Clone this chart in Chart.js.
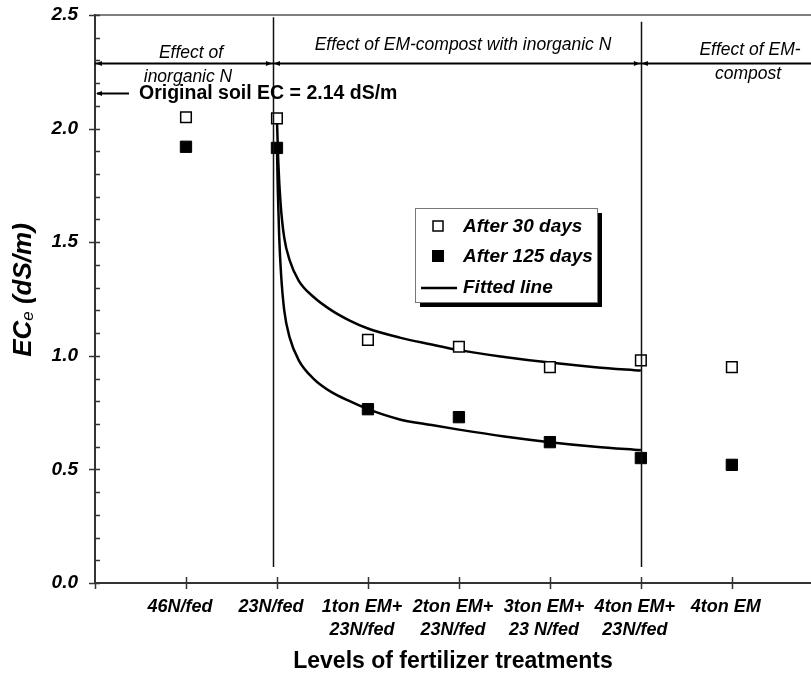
<!DOCTYPE html>
<html>
<head>
<meta charset="utf-8">
<script src="https://cdn.jsdelivr.net/npm/chart.js@4.4.1/dist/chart.umd.min.js"></script>
<style>
  html, body { margin: 0; padding: 0; background: #fff; overflow: hidden; }
  #wrap { width: 811px; height: 675px; }
  canvas { display: block; }
</style>
</head>
<body>
<div id="wrap"><canvas id="ecChart" width="811" height="675"></canvas></div>
<script>
// ================= DATA =================
const treatments = [
  ["46N/fed"], ["23N/fed"], ["1ton EM+", "23N/fed"], ["2ton EM+", "23N/fed"],
  ["3ton EM+", "23 N/fed"], ["4ton EM+", "23N/fed"], ["4ton EM"]
];
const treatmentPos = [1, 2, 3, 4, 5, 6, 7];
const after30 = [2.05, 2.045, 1.07, 1.04, 0.95, 0.98, 0.95];
const after125 = [1.92, 1.915, 0.765, 0.73, 0.62, 0.55, 0.52];

// fitted curves
const fit30X = [2.0, 2.015, 2.04, 2.08, 2.14, 2.24, 2.4, 2.6, 2.8, 3.0, 3.35, 3.7, 4.0, 4.5, 5.0, 5.5, 6.0];
const fit30Y = [2.04, 1.85, 1.67, 1.52, 1.42, 1.33, 1.26, 1.2, 1.155, 1.12, 1.08, 1.05, 1.025, 0.995, 0.97, 0.95, 0.935];
const fit125X = [2.0, 2.01, 2.025, 2.045, 2.08, 2.14, 2.24, 2.4, 2.6, 2.8, 3.0, 3.35, 3.7, 4.0, 4.5, 5.0, 5.5, 6.0];
const fit125Y = [1.92, 1.72, 1.52, 1.36, 1.2, 1.08, 0.98, 0.9, 0.84, 0.8, 0.765, 0.72, 0.695, 0.675, 0.645, 0.62, 0.6, 0.585];

const yTicks = [0, 0.5, 1.0, 1.5, 2.0, 2.5];
const originalEC = 2.14;
const sectionLines = [1.956, 6];   // vertical dividers (x units)
const sectionArrowY = 2.29;

const FONT = "'Liberation Sans', Arial, sans-serif";

const toXY = (xs, ys) => xs.map((x, i) => ({ x: x, y: ys[i] }));

// ================= EXTRA DRAWING =================
const decorations = {
  id: "decorations",
  afterDatasetsDraw(chart) {
    const ctx = chart.ctx;
    const xs = chart.scales.x, ys = chart.scales.y;
    const area = chart.chartArea;
    ctx.save();

    // top border
    ctx.strokeStyle = "#555";
    ctx.lineWidth = 1.5;
    ctx.beginPath();
    ctx.moveTo(area.left, area.top);
    ctx.lineTo(area.right, area.top);
    ctx.stroke();

    // y ticks (major + minor)
    ctx.strokeStyle = "#333";
    ctx.lineWidth = 1.5;
    for (let i = 0; i <= 25; i++) {
      const py = Math.round(ys.getPixelForValue(i / 10)) + 0.5;
      ctx.beginPath();
      if (i % 5 === 0) { ctx.moveTo(area.left - 6, py); ctx.lineTo(area.left + 5, py); }
      else { ctx.moveTo(area.left, py); ctx.lineTo(area.left + 5, py); }
      ctx.stroke();
    }
    // x ticks
    for (let v = 0; v <= 7; v++) {
      const px = Math.round(xs.getPixelForValue(v)) + 0.5;
      ctx.beginPath();
      ctx.moveTo(px, v === 0 ? area.bottom : area.bottom - 6);
      ctx.lineTo(px, area.bottom + 6);
      ctx.stroke();
    }

    // vertical dividers
    ctx.strokeStyle = "#111";
    ctx.lineWidth = 1.5;
    sectionLines.forEach((v, i) => {
      const px = Math.round(xs.getPixelForValue(v)) + 0.5;
      ctx.beginPath();
      ctx.moveTo(px, ys.getPixelForValue(i === 0 ? 2.49 : 2.47));
      ctx.lineTo(px, ys.getPixelForValue(0.07));
      ctx.stroke();
    });

    // horizontal arrow line
    const ay = Math.round(ys.getPixelForValue(sectionArrowY)) + 0.5;
    ctx.strokeStyle = "#000";
    ctx.lineWidth = 2;
    ctx.beginPath();
    ctx.moveTo(area.left, ay);
    ctx.lineTo(area.right, ay);
    ctx.stroke();
    const head = (x, y, dir) => {
      ctx.beginPath();
      ctx.moveTo(x, y);
      ctx.lineTo(x - dir * 6, y - 2.5);
      ctx.lineTo(x - dir * 6, y + 2.5);
      ctx.closePath();
      ctx.fill();
    };
    ctx.fillStyle = "#000";
    head(area.left + 1, ay, -1);
    sectionLines.forEach(v => {
      const px = xs.getPixelForValue(v);
      head(px - 1, ay, 1);
      head(px + 1, ay, -1);
    });

    // section texts
    ctx.font = "italic 17.5px " + FONT;
    ctx.textAlign = "center";
    ctx.textBaseline = "middle";
    ctx.fillStyle = "#000";
    ctx.fillText("Effect of", 191, 53);
    ctx.fillText("inorganic N", 188, 77);
    ctx.fillText("Effect of EM-compost with inorganic N", 463, 45);
    ctx.fillText("Effect of EM-", 750, 50);
    ctx.fillText("compost", 748, 74);

    // original EC arrow + text
    const ey = Math.round(ys.getPixelForValue(originalEC)) - 3.5;
    ctx.lineWidth = 2;
    ctx.beginPath();
    ctx.moveTo(area.left + 2, ey);
    ctx.lineTo(area.left + 34, ey);
    ctx.stroke();
    head(area.left + 1, ey, -1);
    ctx.font = "bold 19.5px " + FONT;
    ctx.textAlign = "left";
    ctx.fillText("Original soil EC = " + originalEC.toFixed(2) + " dS/m", 139, 94);

    // legend with shadow
    const lx = 415, ly = 208, lw = 182, lh = 94;
    ctx.fillStyle = "#000";
    ctx.fillRect(lx + 5, ly + 5, lw, lh);
    ctx.fillStyle = "#fff";
    ctx.fillRect(lx, ly, lw, lh);
    ctx.strokeStyle = "#777";
    ctx.lineWidth = 1;
    ctx.strokeRect(lx + 0.5, ly + 0.5, lw, lh);
    ctx.strokeStyle = "#000";
    ctx.lineWidth = 1.5;
    ctx.strokeRect(433, 221, 10, 10);
    ctx.fillStyle = "#000";
    ctx.fillRect(432, 250, 12, 12);
    ctx.lineWidth = 2.5;
    ctx.beginPath();
    ctx.moveTo(421, 288);
    ctx.lineTo(457, 288);
    ctx.stroke();
    ctx.font = "bold italic 19px " + FONT;
    ctx.textBaseline = "middle";
    const labels = chart.data.datasets.map(d => d.label);
    ctx.fillText(labels[0], 463, 227);
    ctx.fillText(labels[1], 463, 257);
    ctx.fillText(labels[2], 463, 288);

    // y title with subscript
    ctx.translate(24, 290);
    ctx.rotate(-Math.PI / 2);
    ctx.textAlign = "left";
    ctx.textBaseline = "middle";
    const big = "bold italic 26px " + FONT, small = "italic 17px " + FONT;
    ctx.font = big;
    const w1 = ctx.measureText("EC").width;
    ctx.font = small;
    const w2 = ctx.measureText("e").width;
    ctx.font = big;
    const w3 = ctx.measureText(" (dS/m)").width;
    const start = -(w1 + w2 + w3) / 2;
    ctx.fillText("EC", start, 0);
    ctx.font = small;
    ctx.fillText("e", start + w1, 4);
    ctx.font = big;
    ctx.fillText(" (dS/m)", start + w1 + w2, 0);

    ctx.restore();
  }
};

// ================= CHART =================
const ctx = document.getElementById("ecChart").getContext("2d");
new Chart(ctx, {
  type: "scatter",
  data: {
    datasets: [
      {
        label: "After 30 days",
        data: toXY(treatmentPos, after30),
        pointStyle: "rect",
        pointRadius: 7.5,
        pointBackgroundColor: "#fff",
        pointBorderColor: "#000",
        pointBorderWidth: 1.5,
        showLine: false,
        order: 0
      },
      {
        label: "After 125 days",
        data: toXY(treatmentPos, after125),
        pointStyle: "rect",
        pointRadius: 8,
        pointBackgroundColor: "#000",
        pointBorderColor: "#000",
        pointBorderWidth: 1,
        showLine: false,
        order: 0
      },
      {
        label: "Fitted line",
        type: "line",
        data: toXY(fit30X, fit30Y),
        borderColor: "#000",
        borderWidth: 2.5,
        pointRadius: 0,
        fill: false,
        cubicInterpolationMode: "monotone",
        order: 1
      },
      {
        label: "Fitted line (125 days)",
        type: "line",
        data: toXY(fit125X, fit125Y),
        borderColor: "#000",
        borderWidth: 2.5,
        pointRadius: 0,
        fill: false,
        cubicInterpolationMode: "monotone",
        order: 1
      }
    ]
  },
  options: {
    responsive: false,
    animation: false,
    layout: { autoPadding: false, padding: { top: 15, right: 0, left: 0, bottom: 0 } },
    plugins: { legend: { display: false }, tooltip: { enabled: false } },
    scales: {
      x: {
        type: "linear",
        min: 0,
        max: 7.87,
        afterFit: s => { s.height = 92; s.paddingLeft = 0; s.paddingRight = 0; },
        afterBuildTicks: s => { s.ticks = treatmentPos.map(v => ({ value: v })); },
        grid: { display: false, drawTicks: false },
        border: { display: true, color: "#333", width: 2 },
        ticks: {
          padding: 12,
          labelOffset: -6,
          maxRotation: 0,
          autoSkip: false,
          color: "#000",
          font: { family: FONT, size: 18, weight: "bold", style: "italic", lineHeight: 1.3 },
          callback: (v) => treatments[v - 1] || ""
        },
        title: {
          display: true,
          text: "Levels of fertilizer treatments",
          color: "#000",
          padding: { top: 0, bottom: 0 },
          font: { family: FONT, size: 23, weight: "bold" }
        }
      },
      y: {
        min: 0,
        max: 2.5,
        afterFit: s => { s.width = 95; s.paddingTop = 0; s.paddingBottom = 0; },
        afterBuildTicks: s => { s.ticks = yTicks.map(v => ({ value: v })); },
        grid: { display: false, drawTicks: false },
        border: { display: true, color: "#333", width: 2 },
        ticks: {
          padding: 17,
          color: "#000",
          font: { family: FONT, size: 19, weight: "bold", style: "italic" },
          callback: (v) => v.toFixed(1)
        }
      }
    }
  },
  plugins: [decorations]
});
</script>
</body>
</html>
